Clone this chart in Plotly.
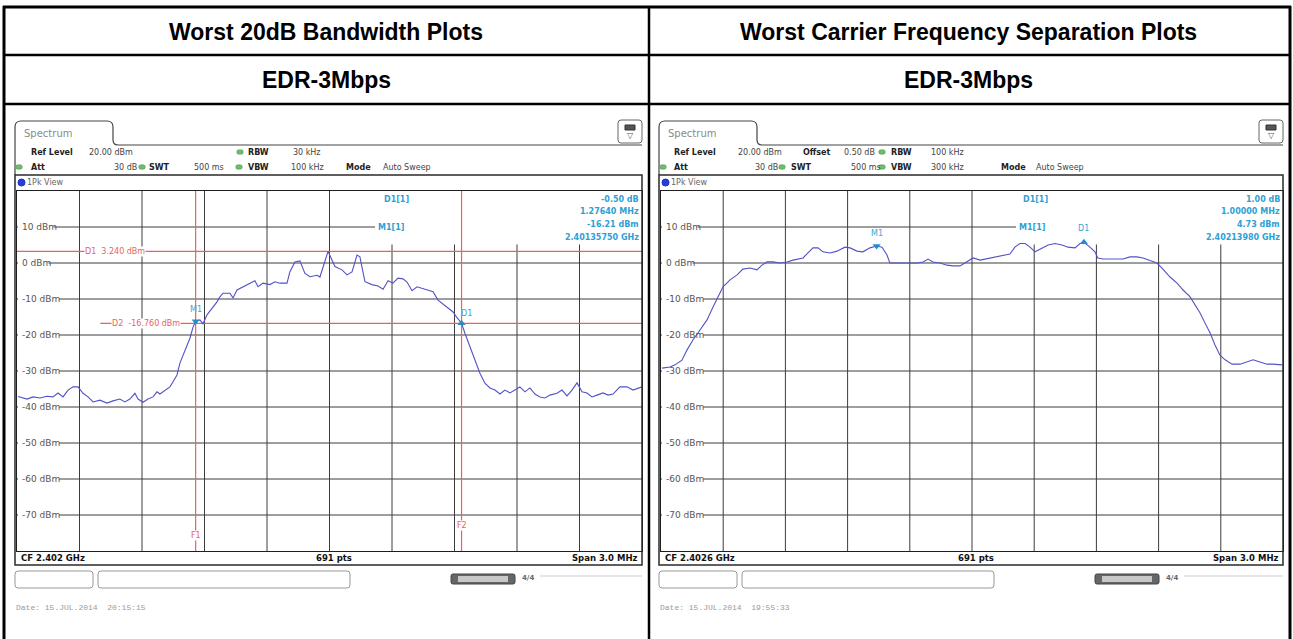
import plotly.graph_objects as go

W, H = 1293, 639

# ---------------- data ----------------
# Left: Worst 20 dB bandwidth, CF 2.402 GHz, span 3 MHz
left_freq_mhz = [
    2400.505, 2400.548, 2400.577, 2400.610, 2400.644, 2400.673, 2400.697, 2400.721,
    2400.745, 2400.769, 2400.793, 2400.817, 2400.841, 2400.865, 2400.898, 2400.932,
    2400.961, 2400.994, 2401.018, 2401.042, 2401.066, 2401.081, 2401.105, 2401.129,
    2401.153, 2401.172, 2401.186, 2401.201, 2401.220, 2401.234, 2401.249, 2401.268,
    2401.282, 2401.297, 2401.316, 2401.330, 2401.345, 2401.3575, 2401.378, 2401.393,
    2401.412, 2401.436, 2401.460, 2401.474, 2401.489, 2401.522, 2401.537, 2401.556,
    2401.585, 2401.618, 2401.642, 2401.657, 2401.681, 2401.714, 2401.738, 2401.762,
    2401.796, 2401.810, 2401.834, 2401.858, 2401.882, 2401.906, 2401.940, 2401.954,
    2401.978, 2401.993, 2402.026, 2402.060, 2402.084, 2402.108, 2402.132, 2402.146,
    2402.170, 2402.204, 2402.233, 2402.257, 2402.281, 2402.305, 2402.329, 2402.353,
    2402.372, 2402.396, 2402.420, 2402.449, 2402.473, 2402.497, 2402.521, 2402.545,
    2402.569, 2402.593, 2402.612, 2402.6339, 2402.650, 2402.674, 2402.698, 2402.722,
    2402.746, 2402.770, 2402.794, 2402.818, 2402.842, 2402.866, 2402.890, 2402.914,
    2402.938, 2402.962, 2402.986, 2403.010, 2403.034, 2403.058, 2403.092, 2403.116,
    2403.140, 2403.164, 2403.188, 2403.212, 2403.236, 2403.260, 2403.284, 2403.313,
    2403.337, 2403.361, 2403.394, 2403.428, 2403.457, 2403.500,
]
left_level_dbm = [
    -37.1, -37.8, -37.2, -37.5, -37.0, -37.2, -36.1, -37.2,
    -35.3, -34.4, -34.4, -36.2, -37.2, -38.6, -38.1, -38.9,
    -38.3, -37.8, -38.6, -37.8, -36.2, -37.8, -38.7, -37.8,
    -37.2, -35.8, -36.4, -35.8, -35.1, -34.4, -33.0, -31.1,
    -27.8, -25.6, -23.2, -20.9, -17.8, -16.21, -15.8, -16.9,
    -14.4, -12.6, -10.8, -9.4, -8.4, -8.4, -9.7, -7.5,
    -6.6, -5.6, -4.9, -6.6, -5.6, -6.0, -5.2, -5.6,
    -5.6, -2.4, 0.3, 0.6, -2.9, -3.8, -3.4, -3.9,
    0.8, 3.24, -1.0, -1.9, -3.3, -2.5, 2.2, 1.7,
    -5.2, -6.0, -6.4, -7.3, -4.9, -5.6, -4.2, -4.4,
    -5.3, -7.7, -6.6, -7.2, -7.5, -8.0, -10.3, -11.4,
    -12.6, -13.6, -15.2, -16.71, -19.5, -23.2, -27.0, -30.6,
    -33.4, -34.7, -35.3, -36.4, -35.3, -36.1, -35.3, -34.4,
    -35.8, -34.7, -36.4, -37.2, -37.5, -36.7, -36.2, -35.3,
    -36.9, -35.3, -33.3, -35.8, -36.1, -37.2, -36.7, -36.1,
    -36.7, -36.4, -34.4, -34.4, -35.3, -34.4,
]

# Right: Worst carrier frequency separation, CF 2.4026 GHz, span 3 MHz
right_freq_mhz = [
    2401.105, 2401.143, 2401.168, 2401.201, 2401.225, 2401.254, 2401.288, 2401.322,
    2401.351, 2401.375, 2401.399, 2401.433, 2401.467, 2401.495, 2401.529, 2401.563,
    2401.587, 2401.611, 2401.640, 2401.674, 2401.708, 2401.737, 2401.785, 2401.809,
    2401.833, 2401.857, 2401.881, 2401.915, 2401.949, 2401.987, 2402.012, 2402.045,
    2402.074, 2402.108, 2402.1398, 2402.166, 2402.190, 2402.204, 2402.238, 2402.267,
    2402.301, 2402.335, 2402.364, 2402.388, 2402.412, 2402.446, 2402.479, 2402.508,
    2402.542, 2402.576, 2402.605, 2402.639, 2402.687, 2402.735, 2402.783, 2402.807,
    2402.831, 2402.856, 2402.880, 2402.904, 2402.938, 2402.967, 2403.000, 2403.034,
    2403.063, 2403.097, 2403.121, 2403.1398, 2403.169, 2403.193, 2403.207, 2403.232,
    2403.280, 2403.328, 2403.362, 2403.396, 2403.425, 2403.458, 2403.492, 2403.521,
    2403.555, 2403.589, 2403.618, 2403.652, 2403.676, 2403.700, 2403.724, 2403.748,
    2403.772, 2403.796, 2403.821, 2403.854, 2403.893, 2403.927, 2403.956, 2403.989,
    2404.023, 2404.052, 2404.095,
]
right_level_dbm = [
    -29.2, -28.9, -28.3, -27.0, -24.2, -21.4, -18.6, -15.8,
    -12.2, -9.4, -6.6, -4.7, -3.3, -1.7, -1.4, -1.9,
    -0.6, 0.3, 0.3, 0.0, 0.3, 0.8, 1.4, 2.8,
    4.2, 4.2, 3.1, 2.8, 3.3, 4.4, 4.2, 3.3,
    3.1, 4.2, 4.73, 4.4, 2.2, 0.0, 0.0, 0.0,
    0.0, 0.0, 0.3, 1.1, 0.3, 0.0, -0.6, -0.8,
    -0.8, 0.3, 1.4, 0.8, 1.4, 1.9, 2.5, 4.4,
    5.4, 5.4, 4.4, 3.1, 4.2, 5.0, 5.4, 5.0,
    4.4, 4.2, 5.4, 5.73, 4.4, 3.1, 1.4, 1.1,
    1.1, 1.1, 1.7, 1.7, 1.4, 0.6, 0.0, -1.7,
    -3.9, -5.6, -7.5, -9.4, -11.7, -13.9, -16.7, -19.4,
    -22.8, -25.6, -26.9, -28.1, -28.1, -27.5, -26.9, -27.5,
    -28.1, -28.1, -28.3,
]

left_cf_mhz = 2402.0
right_cf_mhz = 2402.6
span_mhz = 3.0
ref_level_dbm = 20
bottom_dbm = -80
y_tick_values = [10, 0, -10, -20, -30, -40, -50, -60, -70]
y_tick_labels = ["10 dBm", "0 dBm", "-10 dBm", "-20 dBm", "-30 dBm",
                 "-40 dBm", "-50 dBm", "-60 dBm", "-70 dBm"]

left_m1 = (2401.3575, -16.21)
left_d1 = (2402.6339, -16.71)
left_d1_line_dbm = 3.24
left_d2_line_dbm = -16.76
left_f1_mhz = 2401.3575
left_f2_mhz = 2402.6339
left_marker_values = ["-0.50 dB", "1.27640 MHz", "-16.21 dBm", "2.40135750 GHz"]

right_m1 = (2402.1398, 4.73)
right_d1 = (2403.1398, 5.73)
right_marker_values = ["1.00 dB", "1.00000 MHz", "4.73 dBm", "2.40213980 GHz"]

col_titles = ["Worst 20dB Bandwidth Plots", "Worst Carrier Frequency Separation Plots"]
row_label = "EDR-3Mbps"

# ---------------- styling helpers ----------------
TRACE = "#5252c8"
MARK = "#1f8fc4"
RED = "#e8625f"
GRID = "#3c3c3c"
FONT = "DejaVu Sans"


def px(x):
    return x / W


def py(y):
    return 1 - y / H


annotations = []
shapes = []


def txt(x, y, s, size=8, color="#222", bold=False, anchor="left", family=FONT):
    annotations.append(dict(
        x=px(x), y=py(y), xref="paper", yref="paper",
        text=f"<b>{s}</b>" if bold else s, showarrow=False,
        xanchor=anchor, yanchor="middle", borderpad=0,
        font=dict(size=size, color=color, family=family)))


def line(x0, y0, x1, y1, color="#000", width=1):
    shapes.append(dict(type="line", xref="paper", yref="paper",
                       x0=px(x0), y0=py(y0), x1=px(x1), y1=py(y1),
                       line=dict(color=color, width=width)))


def rect(x0, y0, x1, y1, color="#000", width=1, fill=None):
    shapes.append(dict(type="rect", xref="paper", yref="paper",
                       x0=px(x0), y0=py(y0), x1=px(x1), y1=py(y1),
                       line=dict(color=color, width=width),
                       fillcolor=fill if fill else "rgba(0,0,0,0)"))


def rrect(x0, y0, x1, y1, r=3, color="#888", width=1, fill="white"):
    p = (f"M {px(x0)},{py(y0 + r)} Q {px(x0)},{py(y0)} {px(x0 + r)},{py(y0)} "
         f"L {px(x1 - r)},{py(y0)} Q {px(x1)},{py(y0)} {px(x1)},{py(y0 + r)} "
         f"L {px(x1)},{py(y1 - r)} Q {px(x1)},{py(y1)} {px(x1 - r)},{py(y1)} "
         f"L {px(x0 + r)},{py(y1)} Q {px(x0)},{py(y1)} {px(x0)},{py(y1 - r)} Z")
    shapes.append(dict(type="path", xref="paper", yref="paper", path=p,
                       line=dict(color=color, width=width), fillcolor=fill))


def green_dot(x, y):
    rrect(x - 3, y - 2, x + 3, y + 2, r=1.5, color="#5aa55a", width=1, fill="#6cbf6c")


# ---------------- figure ----------------
fig = go.Figure()

panels = [
    dict(xa="x", ya="y", bx0=15, gx0=17, gx1=642, cf=left_cf_mhz,
         freq=left_freq_mhz, lvl=left_level_dbm, tab_w=98,
         cf_text="CF 2.402 GHz", date="Date: 15.JUL.2014  20:15:15",
         info_x0=375, d1_lab_x=383, m1_lab_x=377, values=left_marker_values,
         m1=left_m1, d1=left_d1),
    dict(xa="x2", ya="y2", bx0=659, gx0=661, gx1=1283, cf=right_cf_mhz,
         freq=right_freq_mhz, lvl=right_level_dbm, tab_w=98,
         cf_text="CF 2.4026 GHz", date="Date: 15.JUL.2014  19:55:33",
         info_x0=1016, d1_lab_x=1022, m1_lab_x=1018, values=right_marker_values,
         m1=right_m1, d1=right_d1),
]

GY0, GY1 = 191, 551  # grid top / bottom (pixels)

axis_common = dict(showticklabels=False, ticks="", zeroline=False, showline=True,
                   mirror=True, linecolor="#1e1e1e", linewidth=1, showgrid=False,
                   fixedrange=True)

layout_axes = {}
for i, p in enumerate(panels):
    lo = p["cf"] - span_mhz / 2
    hi = p["cf"] + span_mhz / 2
    xk = "xaxis" if i == 0 else "xaxis2"
    yk = "yaxis" if i == 0 else "yaxis2"
    layout_axes[xk] = dict(axis_common, domain=[px(p["gx0"]), px(p["gx1"])],
                           range=[lo, hi], anchor=p["ya"])
    layout_axes[yk] = dict(axis_common, domain=[py(GY1), py(GY0)],
                           range=[bottom_dbm, ref_level_dbm], anchor=p["xa"])
    xa, ya = p["xa"], p["ya"]

    # grid lines (drawn as shapes under the traces)
    for k in range(1, 10):
        xv = lo + k * span_mhz / 10
        shapes.append(dict(type="line", xref=xa, yref=ya, layer="below",
                           x0=xv, x1=xv, y0=bottom_dbm, y1=ref_level_dbm,
                           line=dict(color=GRID, width=1)))
    for v in y_tick_values:
        shapes.append(dict(type="line", xref=xa, yref=ya, layer="below",
                           x0=lo, x1=hi, y0=v, y1=v,
                           line=dict(color=GRID, width=1)))

    gw = p["gx1"] - p["gx0"]

    def fx(x, lo=lo, p=p, gw=gw):
        return lo + (x - p["gx0"]) / gw * span_mhz

    def fy(y):
        return (263 - y) / 3.6

    # white marker-info box (hides grid, below trace)
    shapes.append(dict(type="rect", xref=xa, yref=ya, layer="below",
                       x0=fx(p["info_x0"]), x1=hi, y0=fy(244.5), y1=ref_level_dbm,
                       line=dict(width=0), fillcolor="white"))
    # white boxes behind the y labels
    for v, lab in zip(y_tick_values, y_tick_labels):
        shapes.append(dict(type="rect", xref=xa, yref=ya, layer="below",
                           x0=fx(p["gx0"] + 1), x1=fx(p["gx0"] + 5 + len(lab) * 5.3),
                           y0=v - 1.4, y1=v + 1.4,
                           line=dict(width=0), fillcolor="white"))
        annotations.append(dict(x=fx(p["gx0"] + 4), y=v, xref=xa, yref=ya, text=lab,
                                showarrow=False, xanchor="left", yanchor="middle",
                                borderpad=0,
                                font=dict(size=9, color="#555", family=FONT)))

    # trace
    fig.add_trace(go.Scatter(x=p["freq"], y=p["lvl"], mode="lines",
                             line=dict(color=TRACE, width=1.1),
                             xaxis=xa, yaxis=ya, hoverinfo="skip"))
    # markers
    fig.add_trace(go.Scatter(x=[p["m1"][0]], y=[p["m1"][1]], mode="markers",
                             marker=dict(symbol="triangle-down", size=7, color=MARK),
                             xaxis=xa, yaxis=ya, hoverinfo="skip"))
    fig.add_trace(go.Scatter(x=[p["d1"][0]], y=[p["d1"][1]], mode="markers",
                             marker=dict(symbol="triangle-up", size=7, color=MARK),
                             xaxis=xa, yaxis=ya, hoverinfo="skip"))

    # marker labels
    annotations.append(dict(x=p["m1"][0], y=p["m1"][1], xref=xa, yref=ya,
                            text="M1", showarrow=False, yshift=12, xanchor="center",
                            font=dict(size=8, color="#3aa6d8", family=FONT)))
    annotations.append(dict(x=p["d1"][0], y=p["d1"][1], xref=xa, yref=ya,
                            text="D1", showarrow=False,
                            yshift=10 if i == 0 else 14, xshift=5 if i == 0 else 0,
                            xanchor="center",
                            font=dict(size=8, color="#3aa6d8", family=FONT)))

    # marker info texts
    txt(p["d1_lab_x"], 199, "D1[1]", size=8, color="#2f9fd4", bold=True)
    txt(p["m1_lab_x"], 227, "M1[1]", size=8, color="#2f9fd4", bold=True)
    for k, s in enumerate(p["values"]):
        txt(p["gx1"] - 2, 199 + k * 12.7, s, size=8, color="#2f9fd4", bold=True,
            anchor="right")

    bx0, gx1 = p["bx0"], p["gx1"]
    tw = p["tab_w"]
    # tab + header frame
    tab = (f"M {px(bx0)},{py(175)} L {px(bx0)},{py(127)} "
           f"Q {px(bx0)},{py(121)} {px(bx0 + 6)},{py(121)} "
           f"L {px(bx0 + tw - 6)},{py(121)} Q {px(bx0 + tw)},{py(121)} {px(bx0 + tw)},{py(127)} "
           f"L {px(bx0 + tw)},{py(140)} Q {px(bx0 + tw)},{py(145)} {px(bx0 + tw + 5)},{py(145)} "
           f"L {px(gx1)},{py(145)}")
    shapes.append(dict(type="path", xref="paper", yref="paper", path=tab,
                       line=dict(color="#444", width=1.2)))
    txt(bx0 + 8, 133, "Spectrum", size=10, color="#8a8a8a")
    # icon
    rrect(gx1 - 24, 120, gx1, 143, r=3, color="#666", width=1, fill="white")
    rect(gx1 - 17, 125, gx1 - 7, 130, color="#333", width=1, fill="#555")
    txt(gx1 - 12, 136, "▽", size=8, color="#555", anchor="center")
    # 1Pk view box
    rect(bx0, 175, gx1, 565, color="#2a2a2a", width=1.5)
    shapes.append(dict(type="circle", xref="paper", yref="paper",
                       x0=px(bx0 + 3), x1=px(bx0 + 10), y0=py(179), y1=py(186),
                       line=dict(color="#1b2fbf", width=1), fillcolor="#2540d8"))
    txt(bx0 + 11, 182.5, "1Pk View", size=8, color="#666")
    # footer
    txt(p["gx0"] + 3, 558, p["cf_text"], size=8.5, color="#111", bold=True)
    txt((p["gx0"] + gx1) / 2 + 4, 558, "691 pts", size=8.5, color="#111", bold=True,
        anchor="center")
    txt(gx1 - 3, 558, "Span 3.0 MHz", size=8.5, color="#111", bold=True, anchor="right")
    # bottom status boxes
    rrect(bx0, 571, bx0 + 78, 588, r=3, color="#999", width=1)
    rrect(bx0 + 83, 571, bx0 + 335, 588, r=3, color="#999", width=1)
    rrect(bx0 + 436, 574, bx0 + 500, 584, r=2, color="#444", width=1, fill="#666")
    rect(bx0 + 443, 576, bx0 + 493, 582, color="#aaa", width=0, fill="#c8c8c8")
    txt(bx0 + 506, 578, "4/4", size=7, color="#666", bold=True)
    line(bx0 + 525, 576, gx1, 576, color="#e6e6e6", width=2)
    txt(bx0, 607, p["date"], size=8, color="#9a9a9a", family="Liberation Mono")

# header rows for the two panels
txt(30, 152, "Ref Level", bold=True); txt(88, 152, "20.00 dBm", color="#444")
green_dot(240, 152); txt(247, 152, "RBW", bold=True); txt(292, 152, "30 kHz", color="#444")
green_dot(19, 167); txt(30, 167, "Att", bold=True); txt(113, 167, "30 dB", color="#444")
green_dot(142, 167); txt(148, 167, "SWT", bold=True); txt(193, 167, "500 ms", color="#444")
green_dot(239, 167); txt(247, 167, "VBW", bold=True); txt(290, 167, "100 kHz", color="#444")
txt(345, 167, "Mode", bold=True); txt(382, 167, "Auto Sweep", color="#444")

txt(673, 152, "Ref Level", bold=True); txt(737, 152, "20.00 dBm", color="#444")
txt(802, 152, "Offset", bold=True); txt(843, 152, "0.50 dB", color="#444")
green_dot(882, 152); txt(890, 152, "RBW", bold=True); txt(930, 152, "100 kHz", color="#444")
green_dot(663, 167); txt(673, 167, "Att", bold=True); txt(754, 167, "30 dB", color="#444")
green_dot(782, 167); txt(790, 167, "SWT", bold=True); txt(850, 167, "500 ms", color="#444")
green_dot(882, 167); txt(890, 167, "VBW", bold=True); txt(930, 167, "300 kHz", color="#444")
txt(1000, 167, "Mode", bold=True); txt(1035, 167, "Auto Sweep", color="#444")

# red display / frequency lines on the left plot (data coordinates)
lo_l = left_cf_mhz - span_mhz / 2
hi_l = left_cf_mhz + span_mhz / 2
for shp in [
    dict(x0=lo_l, x1=hi_l, y0=left_d1_line_dbm, y1=left_d1_line_dbm),
    dict(x0=lo_l + 0.40, x1=hi_l, y0=left_d2_line_dbm, y1=left_d2_line_dbm),
    dict(x0=left_f1_mhz, x1=left_f1_mhz, y0=bottom_dbm, y1=ref_level_dbm),
    dict(x0=left_f2_mhz, x1=left_f2_mhz, y0=bottom_dbm, y1=ref_level_dbm),
]:
    shapes.append(dict(type="line", xref="x", yref="y", layer="below",
                       line=dict(color=RED, width=1.2), **shp))

red_labels = [
    (lo_l + 0.47, left_d1_line_dbm, "D1  3.240 dBm"),
    (lo_l + 0.62, left_d2_line_dbm, "D2  -16.760 dBm"),
    (left_f1_mhz, -75.8, "F1"),
    (left_f2_mhz, -72.8, "F2"),
]
for xv, yv, s in red_labels:
    annotations.append(dict(x=xv, y=yv, xref="x", yref="y", text=s, showarrow=False,
                            xanchor="center", yanchor="middle", bgcolor="white",
                            borderpad=0,
                            font=dict(size=8, color=RED, family=FONT)))

# ---------------- table frame ----------------
line(3, 7, 1291, 7, width=3)
line(4, 6, 4, 639, width=3)
line(1290, 6, 1290, 639, width=3)
line(4, 55, 1290, 55, width=2.5)
line(4, 104, 1290, 104, width=2.5)
line(649, 7, 649, 639, width=2.5)

TITLE_FONT = "Liberation Sans"
for cx, t in zip([326, 969], col_titles):
    txt(cx, 32, t, size=23, color="#000", bold=True, anchor="center", family=TITLE_FONT)
    txt(cx, 80, row_label, size=23, color="#000", bold=True, anchor="center",
        family=TITLE_FONT)

fig.update_layout(
    width=W, height=H, margin=dict(l=0, r=0, t=0, b=0),
    paper_bgcolor="white", plot_bgcolor="white", showlegend=False,
    annotations=annotations, shapes=shapes, **layout_axes,
)

fig.write_html("out.html",
               config={"displayModeBar": False, "staticPlot": True},
               post_script="document.body.style.margin='0px';"
                           "document.body.style.overflow='hidden';")
